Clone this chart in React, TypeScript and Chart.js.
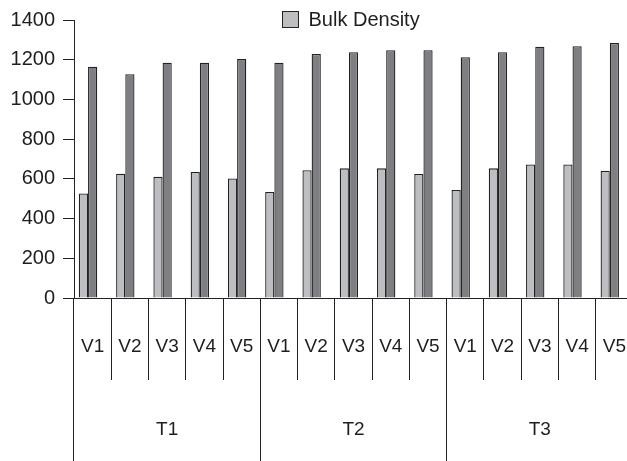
import React, { useEffect, useRef } from "react";
import { Chart, registerables } from "chart.js";

Chart.register(...registerables);

const treatments = ["T1", "T2", "T3"];
const varieties = ["V1", "V2", "V3", "V4", "V5"];
const categoryLabels = treatments.flatMap(() => varieties);
const bulkDensity = [526, 626, 610, 635, 602, 534, 643, 653, 653, 625, 544, 653, 672, 672, 641];
const secondSeries = [1165, 1127, 1185, 1185, 1203, 1185, 1229, 1238, 1248, 1248, 1213, 1238, 1265, 1268, 1284];
const yMin = 0;
const yMax = 1400;
const yStep = 200;

const FONT_FAMILY = "'Liberation Sans', Arial, Helvetica, sans-serif";
const TEXT = "#1e1e1e";
const LINE = "#222222";
const LIGHT = "#bdbec1";
const DARK = "#7e7f83";

const legendPlugin = {
  id: "customLegend",
  afterDraw(chart: any) {
    const ctx = chart.ctx;
    const ds = chart.data.datasets[0];
    const label = ds.label as string;
    ctx.save();
    ctx.font = `20px ${FONT_FAMILY}`;
    const tw = ctx.measureText(label).width;
    const box = 16;
    const gap = 10;
    const total = box + gap + tw;
    const cx = (chart.chartArea.left + 627) / 2;
    const x0 = Math.round(cx - total / 2) + 0.5;
    const y0 = 11.5;
    ctx.fillStyle = ds.backgroundColor;
    ctx.fillRect(x0, y0, box, box);
    ctx.strokeStyle = LINE;
    ctx.lineWidth = 1;
    ctx.strokeRect(x0, y0, box, box);
    ctx.fillStyle = TEXT;
    ctx.textBaseline = "middle";
    ctx.textAlign = "left";
    ctx.fillText(label, x0 + box + gap, y0 + box / 2 + 1);
    ctx.restore();
  },
};

export default function App() {
  const ref = useRef<HTMLCanvasElement | null>(null);

  useEffect(() => {
    if (!ref.current) return;
    const font = { family: FONT_FAMILY, size: 19 };
    const chart = new Chart(ref.current, {
      type: "bar",
      data: {
        labels: categoryLabels,
        datasets: [
          {
            label: "Bulk Density",
            data: bulkDensity,
            backgroundColor: LIGHT,
            borderColor: LINE,
            borderWidth: 1.3,
          },
          {
            label: "",
            data: secondSeries,
            backgroundColor: DARK,
            borderColor: LINE,
            borderWidth: 1.3,
          },
          {
            label: "",
            data: [],
            backgroundColor: "rgba(0,0,0,0)",
            borderWidth: 0,
          },
        ],
      },
      options: {
        animation: false,
        responsive: false,
        maintainAspectRatio: false,
        datasets: {
          bar: { categoryPercentage: 0.74, barPercentage: 1 },
        },
        layout: { padding: { top: 16, right: 7, bottom: 0, left: 0 } },
        plugins: {
          legend: { display: false },
          tooltip: { enabled: false },
        },
        scales: {
          x: {
            type: "category",
            position: "bottom",
            offset: true,
            grid: {
              offset: true,
              drawOnChartArea: false,
              tickLength: 82,
              color: LINE,
              lineWidth: 1,
            },
            border: { display: true, color: LINE, width: 1 },
            ticks: {
              padding: -45,
              font,
              color: TEXT,
              maxRotation: 0,
              autoSkip: false,
            },
            afterFit: (s: any) => {
              s.height = 82;
            },
          },
          xT: {
            type: "category",
            labels: treatments,
            position: "bottom",
            offset: true,
            grid: {
              offset: true,
              drawOnChartArea: false,
              tickLength: 81,
              color: LINE,
              lineWidth: 1,
            },
            border: { display: false },
            ticks: {
              padding: -43,
              font,
              color: TEXT,
              maxRotation: 0,
              autoSkip: false,
            },
            afterFit: (s: any) => {
              s.height = 81;
            },
          },
          y: {
            min: yMin,
            max: yMax,
            ticks: {
              stepSize: yStep,
              padding: 8,
              font: { family: FONT_FAMILY, size: 20 },
              color: TEXT,
              callback: (v: any) => String(v),
            },
            grid: {
              drawOnChartArea: false,
              tickLength: 11,
              color: LINE,
              lineWidth: 1,
            },
            border: { display: true, color: LINE, width: 1 },
            afterFit: (s: any) => {
              s.width = 74;
            },
          },
        },
      },
      plugins: [legendPlugin],
    } as any);
    return () => chart.destroy();
  }, []);

  return (
    <div
      style={{
        position: "absolute",
        left: 0,
        top: 0,
        width: 627,
        height: 461,
        overflow: "hidden",
        background: "#ffffff",
      }}
    >
      <canvas ref={ref} width={640} height={461} style={{ display: "block" }} />
    </div>
  );
}
